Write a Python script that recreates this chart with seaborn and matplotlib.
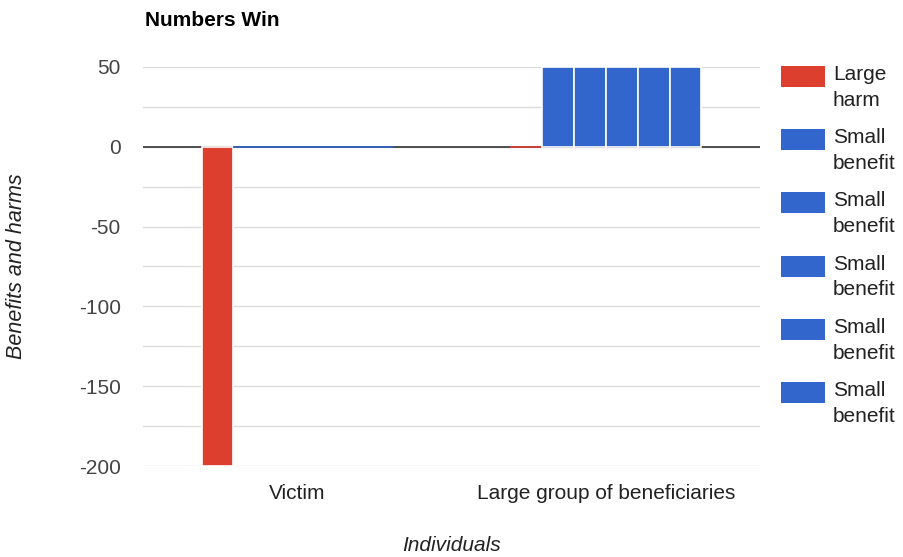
import matplotlib
matplotlib.use("Agg")
import matplotlib.pyplot as plt
import seaborn as sns
import pandas as pd
from matplotlib.patches import Rectangle

categories = ["Victim", "Large group of beneficiaries"]
series_names = ["Large harm", "Small benefit", "Small benefit", "Small benefit", "Small benefit", "Small benefit"]
series_values = [
    [-200, 0],
    [0, 50],
    [0, 50],
    [0, 50],
    [0, 50],
    [0, 50],
]
series_colors = ["#DC3F2E", "#3366CC", "#3366CC", "#3366CC", "#3366CC", "#3366CC"]
y_ticks = [50, 0, -50, -100, -150, -200]

rows = []
for i, (name, vals) in enumerate(zip(series_names, series_values)):
    for cat, v in zip(categories, vals):
        rows.append({"cat": cat, "series": f"s{i}", "value": v})
df = pd.DataFrame(rows)
hue_order = [f"s{i}" for i in range(len(series_names))]
palette = dict(zip(hue_order, series_colors))

sns.set_style("white")
plt.rcParams["font.family"] = ["Liberation Sans", "DejaVu Sans"]
plt.rcParams["axes.unicode_minus"] = False

W, H = 904, 557
fig = plt.figure(figsize=(W/100, H/100), dpi=100)
ax = fig.add_axes([143/W, 1-466/H, (760-143)/W, (466-67)/H])

sns.barplot(data=df, x="cat", y="value", hue="series", hue_order=hue_order,
            order=categories, palette=palette, width=0.62, gap=0,
            saturation=1, ax=ax, legend=False, errorbar=None)

for p in ax.patches:
    if abs(p.get_height()) < 1e-9:
        p.set_edgecolor(p.get_facecolor())
        p.set_linewidth(1.2)
    else:
        p.set_edgecolor("white")
        p.set_linewidth(1.2)
    p.set_zorder(3)

ax.set_ylim(-200, 50)
ax.set_xlim(-0.5, 1.5)
ax.set_yticks(y_ticks)
ax.set_yticks(list(range(-200, 51, 25)), minor=True)
ax.grid(True, axis="y", which="both", color="#dcdcdc", linewidth=1)
ax.grid(False, axis="x")
ax.set_axisbelow(True)
ax.axhline(0, color="#333333", linewidth=1.2, zorder=2)
for s in ax.spines.values():
    s.set_visible(False)
ax.tick_params(axis="both", which="both", length=0)
ax.tick_params(axis="y", pad=16, labelsize=15, labelcolor="#444444")
ax.tick_params(axis="x", pad=13, labelsize=15, labelcolor="#222222")

ax.set_xlabel("Individuals", fontstyle="italic", fontsize=15, color="#222222", labelpad=24)
ax.set_ylabel("Benefits and harms", fontstyle="italic", fontsize=15.5, color="#222222", labelpad=37)

fig.text(145/W, 1-20/H, "Numbers Win", fontsize=15, fontweight="bold",
         color="#000000", ha="left", va="center")

# legend, drawn by hand so that the swatch sits beside the first line
for i, (name, col) in enumerate(zip(series_names, series_colors)):
    top = 66 + i * 63.2
    fig.add_artist(Rectangle((781/W, 1-(top+21)/H), 44/W, 21/H,
                             transform=fig.transFigure, facecolor=col,
                             edgecolor=col, linewidth=0))
    fig.text(833/W, 1-(top-1)/H, name.replace(" ", "\n"), fontsize=15,
             color="#222222", ha="left", va="top", linespacing=1.45)

fig.savefig("out.png", dpi=100)
